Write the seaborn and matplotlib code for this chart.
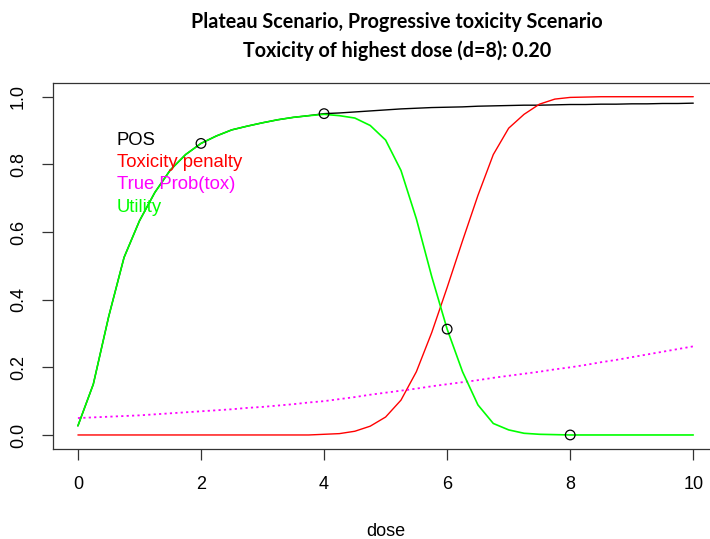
import matplotlib
matplotlib.use("Agg")
import matplotlib.pyplot as plt
from matplotlib.lines import Line2D
import seaborn as sns

# ---------------- data ----------------
dose = [0.0, 0.25, 0.5, 0.75, 1.0, 1.25, 1.5, 1.75, 2.0, 2.25, 2.5, 2.75,
        3.0, 3.25, 3.5, 3.75, 4.0, 4.25, 4.5, 4.75, 5.0, 5.25, 5.5, 5.75,
        6.0, 6.25, 6.5, 6.75, 7.0, 7.25, 7.5, 7.75, 8.0, 8.25, 8.5, 8.75,
        9.0, 9.25, 9.5, 9.75, 10.0]

pos = [0.027, 0.150, 0.350, 0.525, 0.633, 0.717, 0.783, 0.829, 0.862, 0.884,
       0.902, 0.913, 0.923, 0.932, 0.939, 0.944, 0.950, 0.952, 0.955, 0.958,
       0.961, 0.964, 0.966, 0.968, 0.969, 0.970, 0.972, 0.973, 0.974, 0.975,
       0.975, 0.976, 0.977, 0.977, 0.978, 0.978, 0.979, 0.979, 0.980, 0.980,
       0.981]

tox_penalty = [0, 0, 0, 0, 0, 0, 0, 0, 0, 0, 0, 0, 0, 0, 0, 0,
               0.002, 0.004, 0.011, 0.026, 0.053, 0.103, 0.187, 0.303, 0.436,
               0.574, 0.708, 0.829, 0.907, 0.948, 0.978, 0.993, 0.998, 0.999,
               1.0, 1.0, 1.0, 1.0, 1.0, 1.0, 1.0]

true_prob_tox = [0.050, 0.052, 0.054, 0.056, 0.058, 0.061, 0.064, 0.067,
                 0.070, 0.073, 0.076, 0.080, 0.083, 0.087, 0.091, 0.096,
                 0.100, 0.106, 0.112, 0.119, 0.125, 0.131, 0.137, 0.144,
                 0.150, 0.156, 0.162, 0.169, 0.175, 0.181, 0.187, 0.194,
                 0.200, 0.207, 0.215, 0.222, 0.230, 0.238, 0.246, 0.254,
                 0.262]

utility = [0.027, 0.150, 0.350, 0.525, 0.633, 0.717, 0.783, 0.829, 0.862,
           0.884, 0.902, 0.913, 0.923, 0.932, 0.939, 0.944, 0.948, 0.944,
           0.937, 0.915, 0.872, 0.782, 0.639, 0.468, 0.313, 0.187, 0.089,
           0.034, 0.015, 0.005, 0.002, 0.001, 0.0, 0.0, 0.0, 0.0, 0.0, 0.0,
           0.0, 0.0, 0.0]

dose_levels = [2, 4, 6, 8]
utility_at_levels = [0.862, 0.950, 0.313, 0.0]

legend_labels = ["POS", "Toxicity penalty", "True Prob(tox)", "Utility"]
legend_colors = ["#000000", "#FF0000", "#FF00FF", "#00FF00"]

title_line1 = "Plateau Scenario, Progressive toxicity Scenario"
title_line2 = "Toxicity of highest dose (d=8): 0.20"
x_ticks = [0, 2, 4, 6, 8, 10]
y_ticks = [0.0, 0.2, 0.4, 0.6, 0.8, 1.0]
y_tick_labels = ["0.0", "0.2", "0.4", "0.6", "0.8", "1.0"]

# ---------------- style ----------------
sns.set_theme(style="white")
plt.rcParams["font.family"] = ["Liberation Sans", "DejaVu Sans"]

W, H = 710, 539
fig = plt.figure(figsize=(W / 100, H / 100), dpi=100)
ax = fig.add_axes([53.3 / W, 1 - 448.5 / H, (717.9 - 53.3) / W, (448.5 - 83.2) / H])

lw = 1.0
sns.lineplot(x=dose, y=pos, color=legend_colors[0], lw=lw, ax=ax)
sns.lineplot(x=dose, y=tox_penalty, color=legend_colors[1], lw=lw, ax=ax)
sns.lineplot(x=dose, y=true_prob_tox, color=legend_colors[2], lw=1.3, ax=ax,
             linestyle=(0, (1.2, 1.8)))
sns.lineplot(x=dose, y=utility, color=legend_colors[3], lw=1.2, ax=ax)
sns.scatterplot(x=dose_levels, y=utility_at_levels, marker="o", s=48,
                facecolors="none", edgecolors="black", linewidths=0.9,
                ax=ax, zorder=5)

ax.set_xlim(-0.4, 10.4)
ax.set_ylim(-0.04, 1.04)
ax.set_xticks(x_ticks)
ax.set_xticklabels([str(t) for t in x_ticks])
ax.set_yticks(y_ticks)
ax.set_yticklabels(y_tick_labels)

for s in ax.spines.values():
    s.set_color("#333333")
    s.set_linewidth(0.9)
    s.set_visible(True)

ax.tick_params(axis="both", which="major", direction="out", length=8,
               width=0.9, color="#333333", labelsize=13, labelcolor="black",
               bottom=True, left=True)
ax.tick_params(axis="x", pad=12)
ax.tick_params(axis="y", pad=11, labelrotation=90)
for lab in ax.get_yticklabels():
    lab.set_va("center")

ax.set_xlabel("dose", fontsize=13, color="black")
ax.set_ylabel("")
ax.xaxis.set_label_coords(0.5, -0.204)
ax.xaxis.label.set_va("top")

handles = [Line2D([], [], color=c, lw=0) for c in legend_colors]
leg = ax.legend(handles, legend_labels, loc="upper left",
                bbox_to_anchor=(0.0954, 0.866), frameon=False,
                handlelength=0, handletextpad=0, borderpad=0,
                borderaxespad=0, labelspacing=0.28, fontsize=13.3,
                labelcolor=legend_colors)

fig.text(397 / W, 1 - 28.3 / H, title_line1, ha="center", va="baseline",
         family="Lato", weight="bold", fontsize=14.2, color="black")
fig.text(397 / W, 1 - 56.7 / H, title_line2, ha="center", va="baseline",
         family="Lato", weight="bold", fontsize=14.2, color="black")

fig.savefig("out.png", dpi=100)
